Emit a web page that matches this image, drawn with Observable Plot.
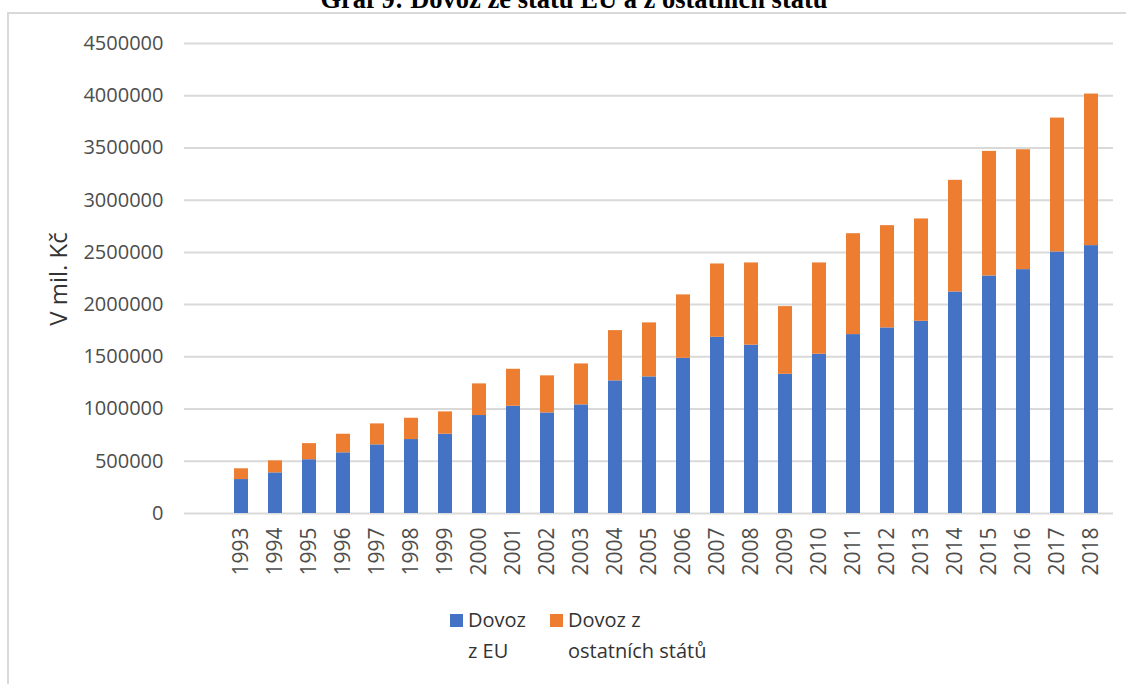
<!DOCTYPE html>
<html>
<head>
<meta charset="utf-8">
<script src="https://cdn.jsdelivr.net/npm/d3@7"></script>
<script src="https://cdn.jsdelivr.net/npm/@observablehq/plot@0.6"></script>
<style>
  html, body { margin: 0; padding: 0; background: #fff; width: 1126px; height: 684px; overflow: hidden; }
  #frame { position: absolute; left: 7px; top: 12px; width: 1300px; height: 900px; border: 2px solid #d9d9d9; box-sizing: border-box; }
  #title { position: absolute; left: 0; width: 1148px; top: -14px; text-align: center; font-family: "Liberation Serif", serif; font-weight: bold; font-size: 26.5px; line-height: 26px; color: #000; white-space: nowrap; }
  #chart { position: absolute; left: 0; top: 0; }
  #ylabel { position: absolute; left: 57px; top: 279px; transform: translate(-50%, -50%) rotate(-90deg); font-family: "Open Sans", sans-serif; font-size: 24px; color: #333; white-space: nowrap; }
  .leg { position: absolute; top: 604px; font-family: "Open Sans", sans-serif; font-size: 20px; line-height: 31px; color: #333; }
  .sw { position: absolute; top: 10px; width: 13px; height: 13px; }
  .lt { position: absolute; left: 18px; top: 0; white-space: nowrap; }
</style>
</head>
<body>
<div id="frame"></div>
<div id="title">Graf 9: Dovoz ze států EU a z ostatních států</div>
<div id="chart"></div>
<div id="ylabel">V mil. Kč</div>
<div id="legend"></div>
<script>
const years = ["1993","1994","1995","1996","1997","1998","1999","2000","2001","2002","2003","2004","2005","2006","2007","2008","2009","2010","2011","2012","2013","2014","2015","2016","2017","2018"];
const seriesNames = ["Dovoz z EU", "Dovoz z ostatních států"];
const legendLines = [["Dovoz", "z EU"], ["Dovoz z", "ostatních států"]];
const dovozEU = [325000, 389000, 515000, 581000, 657000, 708000, 759000, 938000, 1027000, 963000, 1040000, 1270000, 1308000, 1486000, 1687000, 1612000, 1333000, 1525000, 1713000, 1777000, 1840000, 2121000, 2274000, 2335000, 2504000, 2565000];
const dovozOstatni = [103000, 115000, 154000, 178000, 201000, 204000, 214000, 303000, 354000, 355000, 392000, 481000, 517000, 607000, 702000, 787000, 648000, 874000, 966000, 979000, 980000, 1069000, 1193000, 1148000, 1282000, 1451000];
const yTicks = [0, 500000, 1000000, 1500000, 2000000, 2500000, 3000000, 3500000, 4000000, 4500000];
const colors = ["#4472C4", "#ED7D31"];

const rows = [];
years.forEach((y, i) => {
  rows.push({year: y, series: seriesNames[0], value: dovozEU[i]});
  rows.push({year: y, series: seriesNames[1], value: dovozOstatni[i]});
});

const chart = Plot.plot({
  width: 1126,
  height: 600,
  marginLeft: 184,
  marginRight: 13,
  marginTop: 43,
  marginBottom: 87,
  style: {fontFamily: "Open Sans, sans-serif", fontSize: "20px", color: "#4d4d4d", background: "transparent", overflow: "visible"},
  x: {domain: ["", ...years], paddingInner: 0.6, paddingOuter: 0.3, label: null},
  y: {domain: [0, 4500000], label: null},
  color: {domain: seriesNames, range: colors},
  marks: [
    Plot.gridY(yTicks, {stroke: "#d9d9d9", strokeOpacity: 1, strokeWidth: 2}),
    Plot.barY(rows, {x: "year", y: "value", fill: "series", order: seriesNames}),
    Plot.axisY(yTicks, {tickSize: 0, tickPadding: 21, tickFormat: d => String(d), label: null, fill: "#4d4d4d"}),
    Plot.axisX({tickRotate: -90, tickSize: 0, tickPadding: 14, label: null, fill: "#4d4d4d", fontSize: 21})
  ]
});
document.getElementById("chart").appendChild(chart);

const legend = document.getElementById("legend");
const legX = [450, 550];
seriesNames.forEach((s, i) => {
  const item = document.createElement("div");
  item.className = "leg";
  item.style.left = legX[i] + "px";
  const sw = document.createElement("div");
  sw.className = "sw";
  sw.style.background = colors[i];
  item.appendChild(sw);
  const t = document.createElement("div");
  t.className = "lt";
  legendLines[i].forEach((line) => {
    const d = document.createElement("div");
    d.textContent = line;
    t.appendChild(d);
  });
  item.appendChild(t);
  legend.appendChild(item);
});
</script>
</body>
</html>
